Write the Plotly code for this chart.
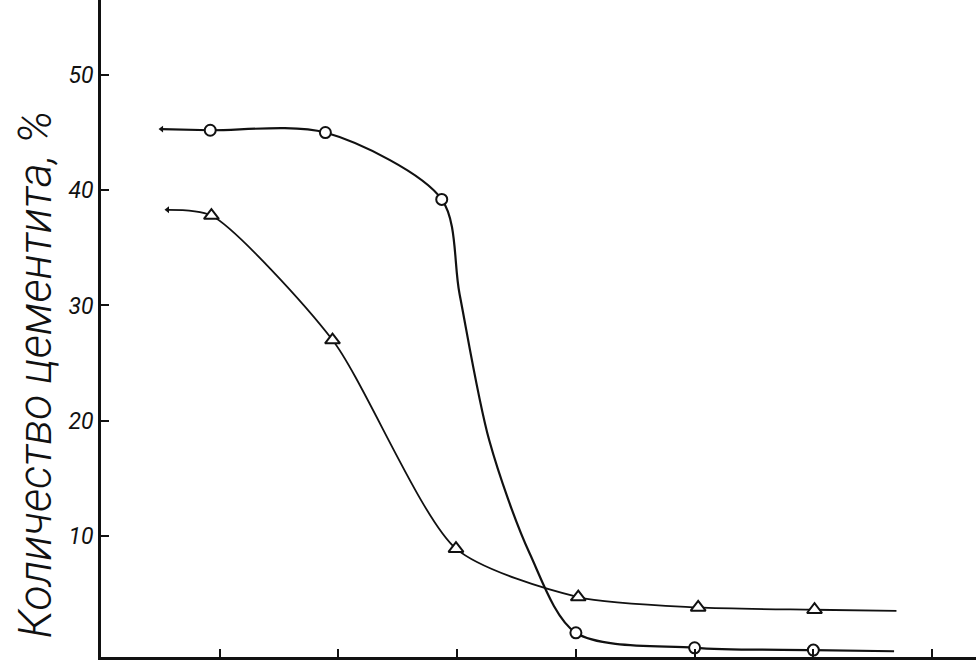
import plotly.graph_objects as go

# (x in tick units, y in %)
circle_x = [0.92, 1.89, 2.87, 4.0, 5.0, 6.0]
circle_y = [45.2, 45.0, 39.2, 1.6, 0.3, 0.1]
# path of the drawn curve (incl. the steep drop traced between points 3 and 4)
circle_line_x = [0.51, 0.92, 1.89, 2.87, 3.02, 3.27, 3.61, 4.0, 5.0, 6.0, 6.68]
circle_line_y = [45.3, 45.2, 45.0, 39.2, 31.0, 18.3, 8.5, 1.6, 0.3, 0.1, 0.0]

tri_x = [0.93, 1.95, 2.99, 4.02, 5.03, 6.01]
tri_y = [37.8, 27.0, 8.9, 4.7, 3.8, 3.6]
tri_line_x = [0.56, 0.93, 1.95, 2.99, 4.02, 5.03, 6.01, 6.7]
tri_line_y = [38.3, 37.8, 27.0, 8.9, 4.7, 3.8, 3.6, 3.5]

y_ticks = [10, 20, 30, 40, 50]
x_ticks = [1, 2, 3, 4, 5, 6, 7]

ink = "#111111"

fig = go.Figure()
fig.add_trace(go.Scatter(x=circle_line_x, y=circle_line_y, mode="lines",
                         line=dict(color=ink, width=2.2, shape="spline", smoothing=0.85)))
fig.add_trace(go.Scatter(x=tri_line_x, y=tri_line_y, mode="lines",
                         line=dict(color=ink, width=1.8, shape="spline", smoothing=0.7)))
fig.add_trace(go.Scatter(x=circle_x, y=circle_y, mode="markers",
                         marker=dict(symbol="circle", size=11, color="white", line=dict(color=ink, width=2))))
fig.add_trace(go.Scatter(x=tri_x, y=tri_y, mode="markers",
                         marker=dict(symbol="triangle-up", size=13, color="white", line=dict(color=ink, width=2))))
# little arrow heads at the left ends
fig.add_trace(go.Scatter(x=[circle_line_x[0], tri_line_x[0]], y=[circle_line_y[0], tri_line_y[0]], mode="markers",
                         marker=dict(symbol="triangle-left", size=6, color=ink)))

fig.add_annotation(text="Количество цементита, %", xref="paper", yref="paper", x=0, y=0.43,
                   xanchor="center", yanchor="middle", xshift=-66, textangle=-90, showarrow=False,
                   font=dict(family="Roboto", size=46, color=ink, style="italic", weight=300))

fig.update_layout(
    width=976, height=667, showlegend=False,
    paper_bgcolor="white", plot_bgcolor="white",
    margin=dict(t=0, b=10, l=101, r=0),
    xaxis=dict(range=[0, 7.37], tickvals=x_ticks, ticktext=[""] * len(x_ticks), ticks="inside", ticklen=8,
               tickwidth=1.5, tickcolor=ink, showline=True, linecolor=ink, linewidth=2.5, showgrid=False,
               zeroline=False),
    yaxis=dict(range=[-0.5, 56.5], tickvals=y_ticks, ticks="inside", ticklen=8, tickwidth=1.5, tickcolor=ink,
               showline=True, linecolor=ink, linewidth=2.5, showgrid=False, zeroline=False,
               tickfont=dict(family="Roboto", size=23, color=ink, style="italic")),
)

fig.write_html("out.html", config={"displayModeBar": False},
               post_script="document.body.style.margin='0';")
